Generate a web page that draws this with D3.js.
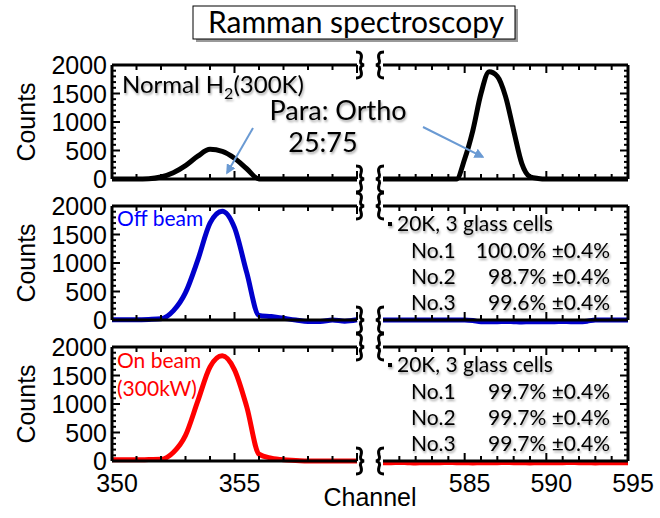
<!DOCTYPE html>
<html>
<head>
<meta charset="utf-8">
<script src="https://cdn.jsdelivr.net/npm/d3@7"></script>
<style>
  body { margin: 0; background: #fff; }
  svg { display: block; }
</style>
</head>
<body>
<div id="chart"></div>
<script>
// channels (half channel steps)
const channelsLeft = [350, 350.5, 351, 351.5, 352, 352.5, 353, 353.5, 354, 354.5, 355, 355.5, 356, 356.5, 357, 357.5, 358, 358.5, 359, 359.5, 360]
const channelsRight = [580, 580.5, 581, 581.5, 582, 582.5, 583, 583.5, 584, 584.5, 585, 585.5, 586, 586.5, 587, 587.5, 588, 588.5, 589, 589.5, 590, 590.5, 591, 591.5, 592, 592.5, 593, 593.5, 594, 594.5, 595]

// counts, normal H2 at 300K
const normalLeft = [0, 0, 0, 5, 35, 110, 235, 400, 520, 485, 365, 180, 0, 0, 0, 0, 0, 0, 0, 0, 0]
const normalRight = [0, 0, 0, 0, 0, 0, 0, 0, 0, 0, 350, 850, 1500, 1880, 1800, 1450, 850, 270, 40, 10, 0, 0, 0, 0, 0, 0, 0, 0, 0, 0, 0]

// counts, off beam
const offLeft = [5, 5, 5, 10, 20, 160, 480, 1050, 1700, 1910, 1620, 830, 80, 60, 30, 0, -25, -25, 0, -20, 5]
const offRight = [0, 0, 0, 0, 0, 0, 0, 0, 0, 0, 0, -10, -30, -30, -30, -25, -30, -35, -30, -30, -30, -30, -25, -30, -30, -20, 0, 0, 0, 0, 0]

// counts, on beam (300kW)
const onLeft = [20, 20, 20, 25, 30, 150, 450, 1050, 1650, 1845, 1600, 950, 120, 50, 20, 10, 0, 0, 0, 0, 0]
const onRight = [-30, -30, -25, -30, -35, -30, -30, -30, -25, -30, -30, -35, -30, -30, -30, -25, -30, -30, -35, -30, -30, -30, -30, -25, -30, -30, -35, -30, -30, -30, -30]

// tick labels
const yTickValues = [0, 500, 1000, 1500, 2000]
const xTicksLeft = [350, 355]
const xTicksRight = [585, 590, 595]

// purity text in the right hand panels
const offHeader = "20K, 3 glass cells"
const offRows = [["No.1", "100.0% ±0.4%"], ["No.2", "98.7% ±0.4%"], ["No.3", "99.6% ±0.4%"]]
const onHeader = "20K,  3 glass cells"
const onRows = [["No.1", "99.7% ±0.4%"], ["No.2", "99.7% ±0.4%"], ["No.3", "99.7% ±0.4%"]]

const width = 660, height = 518
const tickFont = "'Liberation Sans', Arial, sans-serif"
const noteFont = "Lato, 'Open Sans', sans-serif"

const svg = d3.select("#chart").append("svg")
    .attr("width", width)
    .attr("height", height)

let defs = svg.append("defs")

defs.append("filter").attr("id", "shadow")
    .attr("x", "-10%").attr("y", "-20%").attr("width", "130%").attr("height", "150%")
    .append("feDropShadow")
    .attr("dx", 1).attr("dy", 2).attr("stdDeviation", 1.2)
    .attr("flood-color", "#000").attr("flood-opacity", 0.35)

defs.append("marker")
    .attr("id", "arrow")
    .attr("viewBox", "0 0 10 10")
    .attr("refX", 8).attr("refY", 5)
    .attr("markerWidth", 5).attr("markerHeight", 5)
    .attr("orient", "auto")
    .append("path")
    .attr("d", "M0,0 L10,5 L0,10 Z")
    .attr("fill", "#6a9ad3")

// x scales for the two halves of the broken axis
const xLeft = d3.scaleLinear().domain([350, 360]).range([112, 357])
const xRight = d3.scaleLinear().domain([580, 595]).range([383, 628])

const panelTops = [65, 206, 347]
const panelH = 114

function braceMark(x, y, dir){
    // curly brace drawn where the axis is broken
    let d = dir
    return `M${x - 4 * d},${y - 13} Q${x + 3 * d},${y - 13} ${x + 1 * d},${y - 6} Q${x - 1 * d},${y - 1} ${x + 4 * d},${y}` +
        ` Q${x - 1 * d},${y + 1} ${x + 1 * d},${y + 6} Q${x + 3 * d},${y + 13} ${x - 4 * d},${y + 13}`
}

function drawPanel(top, leftData, rightData, color, showX){
    let y = d3.scaleLinear().domain([0, 2000]).range([top + panelH, top])
    let g = svg.append("g")
    let x0 = xLeft.range()[0], x1 = xLeft.range()[1]
    let x2 = xRight.range()[0], x3 = xRight.range()[1]
    let bottom = top + panelH

    // data lines
    let lineL = d3.line().x((d, i) => xLeft(channelsLeft[i])).y(d => y(d)).curve(d3.curveMonotoneX)
    let lineR = d3.line().x((d, i) => xRight(channelsRight[i])).y(d => y(d)).curve(d3.curveMonotoneX)

    g.append("path").attr("d", lineL(leftData))
        .attr("fill", "none").attr("stroke", color).attr("stroke-width", 5)
        .attr("stroke-linejoin", "round")
    g.append("path").attr("d", lineR(rightData))
        .attr("fill", "none").attr("stroke", color).attr("stroke-width", 5)
        .attr("stroke-linejoin", "round")

    // frame lines
    let frame = g.append("g").attr("stroke", "#000").attr("stroke-width", 3).attr("fill", "none")
    frame.append("line").attr("x1", x0).attr("x2", x1).attr("y1", top).attr("y2", top)
    frame.append("line").attr("x1", x0).attr("x2", x1).attr("y1", bottom).attr("y2", bottom)
    frame.append("line").attr("x1", x2).attr("x2", x3).attr("y1", top).attr("y2", top)
    frame.append("line").attr("x1", x2).attr("x2", x3).attr("y1", bottom).attr("y2", bottom)
    frame.append("line").attr("x1", x0).attr("x2", x0).attr("y1", top).attr("y2", bottom)
    frame.append("line").attr("x1", x3).attr("x2", x3).attr("y1", top).attr("y2", bottom)

    // break marks
    ;[top, bottom].forEach(yy => {
        frame.append("path").attr("d", braceMark(x1 + 3, yy, 1)).attr("stroke-width", 3)
        frame.append("path").attr("d", braceMark(x2 - 3, yy, -1)).attr("stroke-width", 3)
    })

    // y ticks (inside), left and right
    let yMinor = d3.range(0, 2001, 100)
    let ticks = g.append("g").attr("stroke", "#000").attr("stroke-width", 2)
    yMinor.forEach(v => {
        let len = v % 500 === 0 ? 8 : 4
        ticks.append("line").attr("x1", x0).attr("x2", x0 + len).attr("y1", y(v)).attr("y2", y(v))
        ticks.append("line").attr("x1", x3).attr("x2", x3 - len).attr("y1", y(v)).attr("y2", y(v))
    })

    // x ticks (inside), top and bottom
    d3.range(350, 360.01, 1).forEach(c => {
        let len = c % 5 === 0 ? 8 : 5
        ticks.append("line").attr("x1", xLeft(c)).attr("x2", xLeft(c)).attr("y1", top).attr("y2", top + len)
        ticks.append("line").attr("x1", xLeft(c)).attr("x2", xLeft(c)).attr("y1", bottom).attr("y2", bottom - len)
    })
    d3.range(581, 595.01, 1).forEach(c => {
        let len = c % 5 === 0 ? 8 : 5
        ticks.append("line").attr("x1", xRight(c)).attr("x2", xRight(c)).attr("y1", top).attr("y2", top + len)
        ticks.append("line").attr("x1", xRight(c)).attr("x2", xRight(c)).attr("y1", bottom).attr("y2", bottom - len)
    })

    // y tick labels
    g.append("g").selectAll("text").data(yTickValues).join("text")
        .attr("x", 107)
        .attr("y", d => y(d))
        .attr("dy", "0.36em")
        .attr("text-anchor", "end")
        .style("font-family", tickFont)
        .style("font-size", "25px")
        .text(d => d)

    // y title
    g.append("text")
        .attr("transform", `translate(35,${top + panelH / 2}) rotate(-90)`)
        .attr("text-anchor", "middle")
        .style("font-family", tickFont)
        .style("font-size", "25px")
        .text("Counts")

    if(showX){
        let lab = g.append("g")
            .style("font-family", tickFont)
            .style("font-size", "25px")
            .attr("text-anchor", "middle")
        lab.selectAll("text.l").data(xTicksLeft).join("text").attr("class", "l")
            .attr("x", d => xLeft(d) + 5).attr("y", bottom + 31).text(d => d)
        lab.selectAll("text.r").data(xTicksRight).join("text").attr("class", "r")
            .attr("x", d => xRight(d) + 5).attr("y", bottom + 31).text(d => d)
    }
    return y
}

function drawPurity(top, header, rows){
    let g = svg.append("g")
        .style("font-family", noteFont)
        .style("font-size", "21px")
        .attr("filter", "url(#shadow)")
    g.append("rect").attr("x", 388).attr("y", top + 16).attr("width", 4).attr("height", 4).attr("fill", "#000")
    g.append("text").attr("x", 397).attr("y", top + 25).text(header)
    rows.forEach((r, i) => {
        let yy = top + 52 + i * 26
        g.append("text").attr("x", 411).attr("y", yy).text(r[0])
        g.append("text").attr("x", 610).attr("y", yy).attr("text-anchor", "end").text(r[1])
    })
}

// title box
svg.append("rect").attr("x", 196).attr("y", 9).attr("width", 322).attr("height", 33).attr("fill", "#999")
svg.append("rect").attr("x", 193).attr("y", 6).attr("width", 322).attr("height", 33)
    .attr("fill", "#fff").attr("stroke", "#000").attr("stroke-width", 1)
svg.append("text").attr("x", 356).attr("y", 33).attr("text-anchor", "middle")
    .style("font-family", noteFont).style("font-size", "30px")
    .text("Ramman spectroscopy")

let yTop = drawPanel(panelTops[0], normalLeft, normalRight, "#000", false)
let yMid = drawPanel(panelTops[1], offLeft, offRight, "#0000cc", false)
let yBot = drawPanel(panelTops[2], onLeft, onRight, "#ff0000", true)

// annotations in the top panel
let note = svg.append("g").style("font-family", noteFont).attr("filter", "url(#shadow)")
let nh = note.append("text").attr("x", 122).attr("y", 93).style("font-size", "24px")
nh.append("tspan").text("Normal H")
nh.append("tspan").attr("dy", 6).style("font-size", "16px").text("2")
nh.append("tspan").attr("dy", -6).text("(300K)")
note.append("text").attr("x", 338).attr("y", 120).attr("text-anchor", "middle").style("font-size", "27px").text("Para: Ortho")
note.append("text").attr("x", 323).attr("y", 152).attr("text-anchor", "middle").style("font-size", "27px").text("25:75")

// arrows pointing at the para and ortho peaks
svg.append("line")
    .attr("x1", 253).attr("y1", 128)
    .attr("x2", xLeft(354.7)).attr("y2", yTop(110))
    .attr("stroke", "#6a9ad3").attr("stroke-width", 2)
    .attr("marker-end", "url(#arrow)")
svg.append("line")
    .attr("x1", 423).attr("y1", 127)
    .attr("x2", xRight(586.1)).attr("y2", yTop(390))
    .attr("stroke", "#6a9ad3").attr("stroke-width", 2)
    .attr("marker-end", "url(#arrow)")

// beam labels
svg.append("text").attr("x", 117).attr("y", 226)
    .style("font-family", noteFont).style("font-size", "21px").attr("fill", "#0000ff")
    .text("Off beam")
svg.append("text").attr("x", 117).attr("y", 368)
    .style("font-family", noteFont).style("font-size", "21px").attr("fill", "#ff0000")
    .text("On beam")
svg.append("text").attr("x", 117).attr("y", 396)
    .style("font-family", noteFont).style("font-size", "21px").attr("fill", "#ff0000")
    .text("(300kW)")

drawPurity(panelTops[1], offHeader, offRows)
drawPurity(panelTops[2], onHeader, onRows)

// x title
svg.append("text").attr("x", 370).attr("y", 506).attr("text-anchor", "middle")
    .style("font-family", tickFont).style("font-size", "25px")
    .text("Channel")
</script>
</body>
</html>
